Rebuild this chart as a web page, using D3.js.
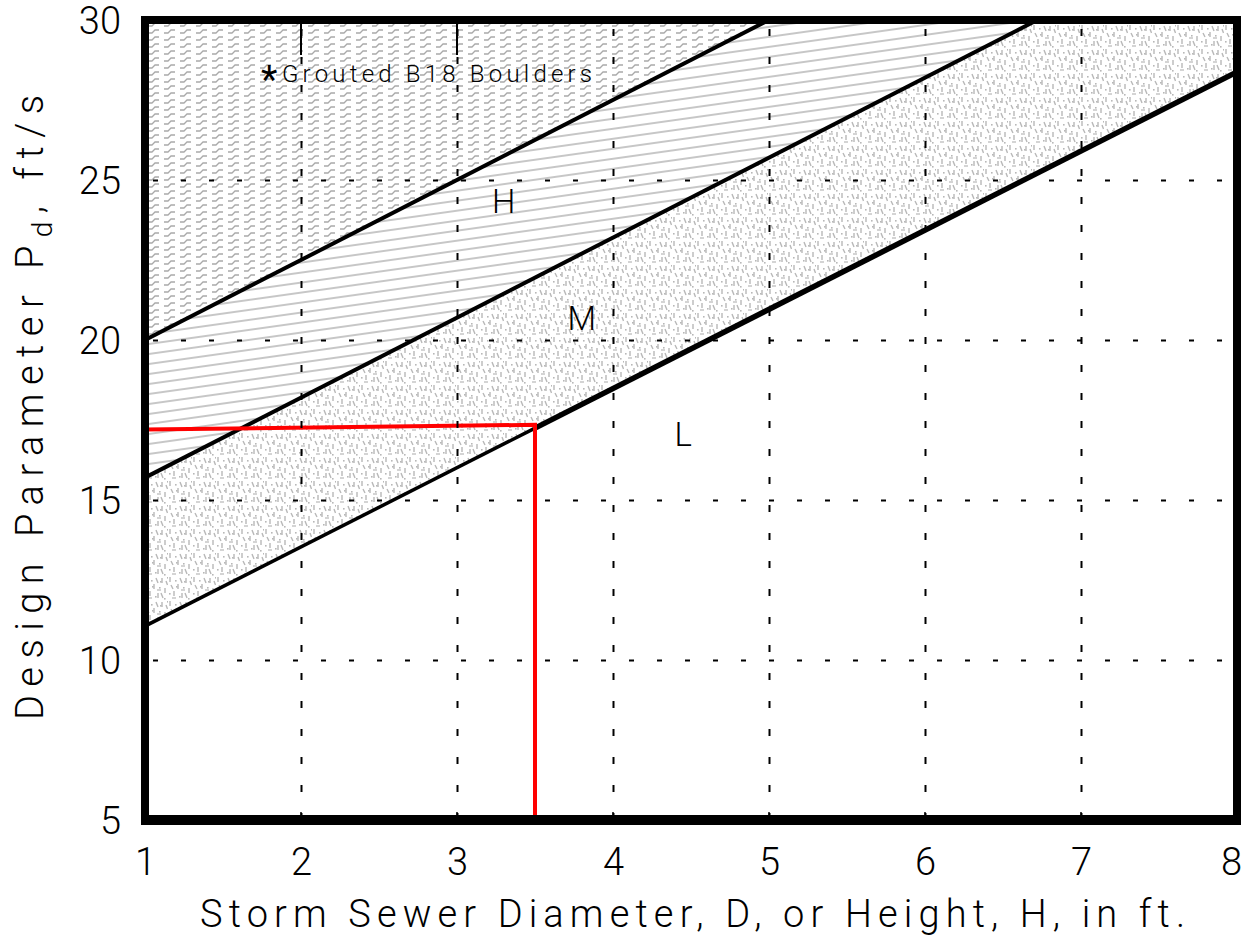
<!DOCTYPE html>
<html><head><meta charset="utf-8">
<script src="https://cdn.jsdelivr.net/npm/d3@7"></script>
<style>
html,body{margin:0;padding:0;background:#fff;}
svg text{font-family:Roboto,"DejaVu Sans",sans-serif;font-weight:300;fill:#000;}
</style></head>
<body>
<svg id="chart" width="1249" height="941"></svg>
<script>
// ---- data ----
const xTicks = [1, 2, 3, 4, 5, 6, 7, 8];
const yTicks = [5, 10, 15, 20, 25, 30];
const xGrid = [2, 3, 4, 5, 6, 7];
const yGrid = [10, 15, 20, 25];
// boundary lines [D, Pd]
const lineGroutedH = [[1, 20.0], [5.0, 30]];
const lineHM = [[1, 15.7], [6.72, 30]];
const lineML = [[1, 11.06], [8, 28.38]];
// design example (red)
const designD = [1, 3.5, 3.5];
const designPd = [17.2, 17.35, 5];
const zoneLabels = ["H", "M", "L"];
const zoneD = [3.3, 3.8, 4.45];
const zonePd = [23.97, 20.3, 16.7];
const noteMark = "*";
const noteText = "Grouted B18 Boulders";

// ---- layout ----
const svg = d3.select("#chart");
const x = d3.scaleLinear().domain([1, 8]).range([145, 1237]);
const y = d3.scaleLinear().domain([5, 30]).range([820, 20]);
const X0 = x(1), X1 = x(8), Y0 = y(30), Y1 = y(5);

const defs = svg.append("defs");
defs.append("clipPath").attr("id", "plotclip").append("rect")
  .attr("x", X0).attr("y", Y0).attr("width", X1 - X0).attr("height", Y1 - Y0);

// grouted pattern
const pg = defs.append("pattern").attr("id", "pGrout").attr("patternUnits", "userSpaceOnUse")
  .attr("width", 16).attr("height", 7).attr("x", X0 + 2).attr("y", Y0 + 1);
pg.append("path").attr("d", "M1,5 H5 L8,2 H12").attr("fill", "none")
  .attr("stroke", "#a9a9a9").attr("stroke-width", 1.3);

// H hatch pattern
const ph = defs.append("pattern").attr("id", "pH").attr("patternUnits", "userSpaceOnUse")
  .attr("width", 40).attr("height", 9.9).attr("patternTransform", "rotate(-8)");
ph.append("line").attr("x1", 0).attr("x2", 40).attr("y1", 5).attr("y2", 5)
  .attr("stroke", "#b4b4b4").attr("stroke-width", 1.6);

// M texture pattern
const pm = defs.append("pattern").attr("id", "pM").attr("patternUnits", "userSpaceOnUse")
  .attr("width", 24).attr("height", 24);
const mc = "#b8b8b8";
[[2,1,2,6],[10,8,10,13],[18,2,18,7],[6,15,6,20],[14,17,14,22],[21,12,21,17],
 [12,2,14,7],[3,9,5,13],[17,17,19,22],[22,5,23.5,9]].forEach(s =>
  pm.append("line").attr("x1", s[0]).attr("y1", s[1]).attr("x2", s[2]).attr("y2", s[3])
    .attr("stroke", mc).attr("stroke-width", 1.4));
[[7,4],[15,11],[1,17],[11,20],[20,22],[8,10],[23,1],[16,5]].forEach(p =>
  pm.append("rect").attr("x", p[0]).attr("y", p[1]).attr("width", 1.6).attr("height", 1.6).attr("fill", mc));
[[4,22,8,22],[13,14,17,14]].forEach(s =>
  pm.append("line").attr("x1", s[0]).attr("y1", s[1]).attr("x2", s[2]).attr("y2", s[3])
    .attr("stroke", mc).attr("stroke-width", 1.2));

const plot = svg.append("g").attr("clip-path", "url(#plotclip)");
const line = d3.line().x(d => x(d[0])).y(d => y(d[1]));
const pAt = (ln, d) => ln[0][1] + (ln[1][1] - ln[0][1]) * (d - ln[0][0]) / (ln[1][0] - ln[0][0]);

// regions
const grout = [[1, 30], lineGroutedH[0], lineGroutedH[1]];
const hReg = [lineGroutedH[0], lineGroutedH[1], lineHM[1], lineHM[0]];
const mReg = [lineHM[0], lineHM[1], [8, 30], lineML[1], lineML[0]];
plot.append("path").attr("d", line(grout) + "Z").attr("fill", "url(#pGrout)");
plot.append("path").attr("d", line(hReg) + "Z").attr("fill", "url(#pH)");
plot.append("path").attr("d", line(mReg) + "Z").attr("fill", "url(#pM)");

// grid
const gx = svg.append("g").attr("transform", `translate(0,${Y1})`)
  .call(d3.axisBottom(x).tickValues(xGrid).tickSize(-(Y1 - Y0)).tickFormat(""));
gx.select(".domain").remove();
gx.selectAll("line").attr("stroke", "#000").attr("stroke-width", 2).attr("stroke-dasharray", "7,21");
const gy = svg.append("g").attr("transform", `translate(${X0},0)`)
  .call(d3.axisLeft(y).tickValues(yGrid).tickSize(-(X1 - X0)).tickFormat(""));
gy.select(".domain").remove();
gy.selectAll("line").attr("stroke", "#000").attr("stroke-width", 2).attr("stroke-dasharray", "5,23")
  .attr("stroke-dashoffset", -8);
// small inner ticks
svg.append("g").selectAll("line").data([2, 3]).join("line")
  .attr("x1", d => x(d)).attr("x2", d => x(d)).attr("y1", Y0).attr("y2", Y0 + 35)
  .attr("stroke", "#000").attr("stroke-width", 2);
svg.append("g").selectAll("line").data(xGrid).join("line")
  .attr("x1", d => x(d)).attr("x2", d => x(d)).attr("y1", Y1).attr("y2", Y1 - 8)
  .attr("stroke", "#000").attr("stroke-width", 1.5);

// boundary lines
plot.append("path").attr("d", line(lineGroutedH)).attr("stroke", "#000").attr("stroke-width", 4).attr("fill", "none");
plot.append("path").attr("d", line(lineHM)).attr("stroke", "#000").attr("stroke-width", 4).attr("fill", "none");
plot.append("path").attr("d", line([lineML[0], [3.5, pAt(lineML, 3.5)]])).attr("stroke", "#000").attr("stroke-width", 3.5).attr("fill", "none");
plot.append("path").attr("d", line([[3.5, pAt(lineML, 3.5)], lineML[1]])).attr("stroke", "#000").attr("stroke-width", 5.5).attr("fill", "none");

// red design lines
plot.append("path").attr("d", line(designD.map((d, i) => [d, designPd[i]])))
  .attr("stroke", "#ff0000").attr("stroke-width", 4).attr("fill", "none");

// frame
svg.append("rect").attr("x", X0).attr("y", Y0).attr("width", X1 - X0).attr("height", Y1 - Y0)
  .attr("fill", "none").attr("stroke", "#000").attr("stroke-width", 8);
svg.append("line").attr("x1", X0 - 4).attr("x2", X1 + 4).attr("y1", Y1).attr("y2", Y1)
  .attr("stroke", "#000").attr("stroke-width", 10);

// tick labels
const ax = svg.append("g").attr("transform", `translate(0,${Y1})`)
  .call(d3.axisBottom(x).tickValues(xTicks).tickSize(0).tickPadding(0).tickFormat(d3.format("d")));
ax.select(".domain").remove();
ax.selectAll("text").attr("font-size", 38).attr("dy", null).attr("y", 55)
  .attr("x", (d, i) => i === xTicks.length - 1 ? -6 : 0);
const ay = svg.append("g").attr("transform", `translate(${X0},0)`)
  .call(d3.axisLeft(y).tickValues(yTicks).tickSize(0).tickPadding(0).tickFormat(d3.format("d")));
ay.select(".domain").remove();
ay.selectAll("text").attr("font-size", 38).attr("x", -24).attr("dy", "0.36em");
svg.selectAll(".tick text").attr("fill", "#000").style("font-family", "Roboto, 'DejaVu Sans', sans-serif").style("font-weight", 300);

// axis titles
svg.append("text").attr("x", 200).attr("y", 927).attr("font-size", 38)
  .attr("textLength", 985).attr("lengthAdjust", "spacing")
  .text("Storm Sewer Diameter, D, or Height, H, in ft.");
const yt = svg.append("text").attr("transform", "translate(43,720) rotate(-90)").attr("font-size", 38)
  .attr("textLength", 625).attr("lengthAdjust", "spacing");
yt.append("tspan").text("Design Parameter P");
yt.append("tspan").attr("font-size", 28).attr("dy", 9).text("d");
yt.append("tspan").attr("dy", -9).text(", ft/s");

// in-chart text
svg.append("text").attr("x", 261).attr("y", 93).attr("font-size", 38)
  .style("font-weight", 400).text(noteMark);
svg.append("text").attr("x", 282).attr("y", 82).attr("font-size", 24)
  .attr("textLength", 310).attr("lengthAdjust", "spacing").text(noteText);
svg.selectAll(".zone").data(zoneLabels).join("text").attr("class", "zone")
  .attr("x", (d, i) => x(zoneD[i])).attr("y", (d, i) => y(zonePd[i]))
  .attr("text-anchor", "middle").attr("font-size", 33).text(d => d);
</script>
</body></html>
